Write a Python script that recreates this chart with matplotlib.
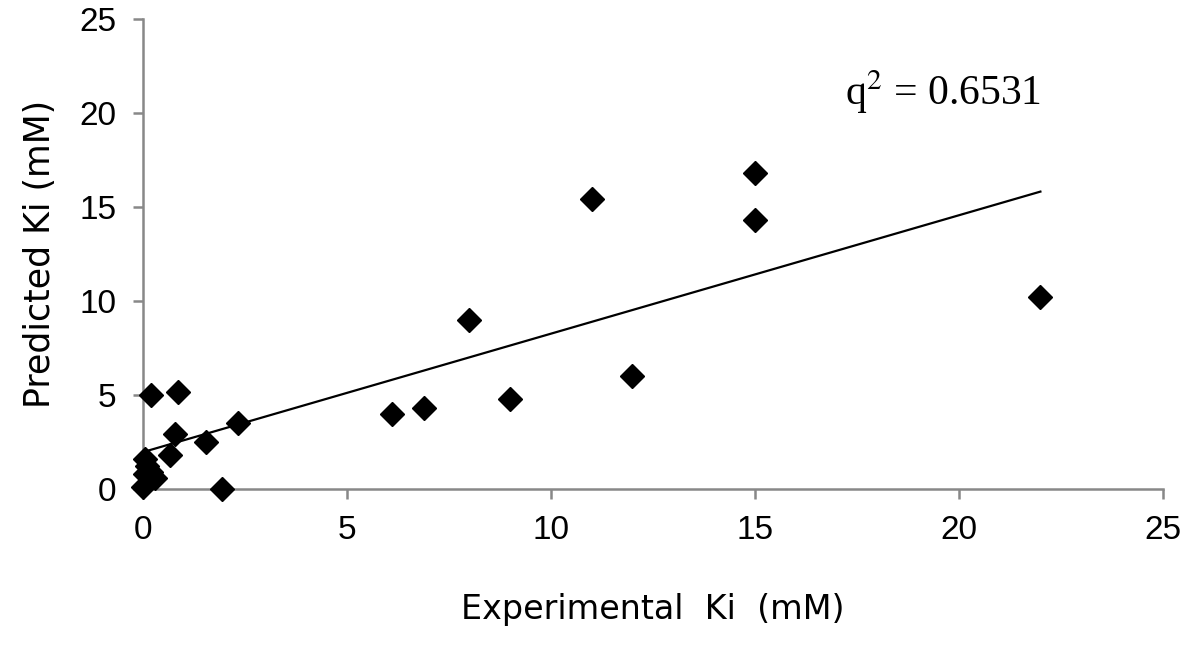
import matplotlib.pyplot as plt
import numpy as np

experimental_ki = [0.0, 0.05, 0.1, 0.05, 0.2, 0.3, 0.2, 0.86, 0.8, 0.66, 1.54, 2.33, 1.94,
                   6.1, 6.9, 8.0, 9.0, 11.0, 12.0, 15.0, 15.0, 22.0]
predicted_ki = [0.1, 0.8, 1.2, 1.6, 0.9, 0.6, 5.0, 5.16, 2.9, 1.8, 2.5, 3.5, 0.0,
                4.0, 4.3, 9.0, 4.8, 15.4, 6.0, 16.8, 14.3, 10.2]

fit_intercept = 1.95
fit_slope = 0.63
q2_label = "q$^2$ = 0.6531"

x = np.array(experimental_ki)
y = np.array(predicted_ki)

fig = plt.figure(figsize=(12, 6.5), dpi=100)
ax = fig.add_axes([0.119, 0.248, 0.85, 0.723])

ax.plot(x, y, linestyle="none", marker="D", markersize=12, color="black",
        clip_on=False, zorder=3)

line_x = np.array([x.min(), x.max()])
ax.plot(line_x, fit_intercept + fit_slope * line_x, color="black", linewidth=1.6)

ax.set_xlim(0, 25)
ax.set_ylim(0, 25)
ax.set_xticks(range(0, 26, 5))
ax.set_yticks(range(0, 26, 5))

for side in ["top", "right"]:
	ax.spines[side].set_visible(False)
for side in ["left", "bottom"]:
	ax.spines[side].set_color("#888888")
	ax.spines[side].set_linewidth(1.8)
ax.tick_params(direction="out", length=7, width=1.8, color="#888888",
               labelsize=24, pad=12)
for lab in ax.get_xticklabels() + ax.get_yticklabels():
	lab.set_family("Liberation Sans")

ax.set_xlabel("Experimental  Ki  (mM)", fontsize=24, labelpad=34)
ax.set_ylabel("Predicted Ki (mM)", fontsize=25, labelpad=16)

ax.text(17.2, 20.4, q2_label, fontsize=30, family="Liberation Serif",
        math_fontfamily="stix")

plt.savefig("out.png")
